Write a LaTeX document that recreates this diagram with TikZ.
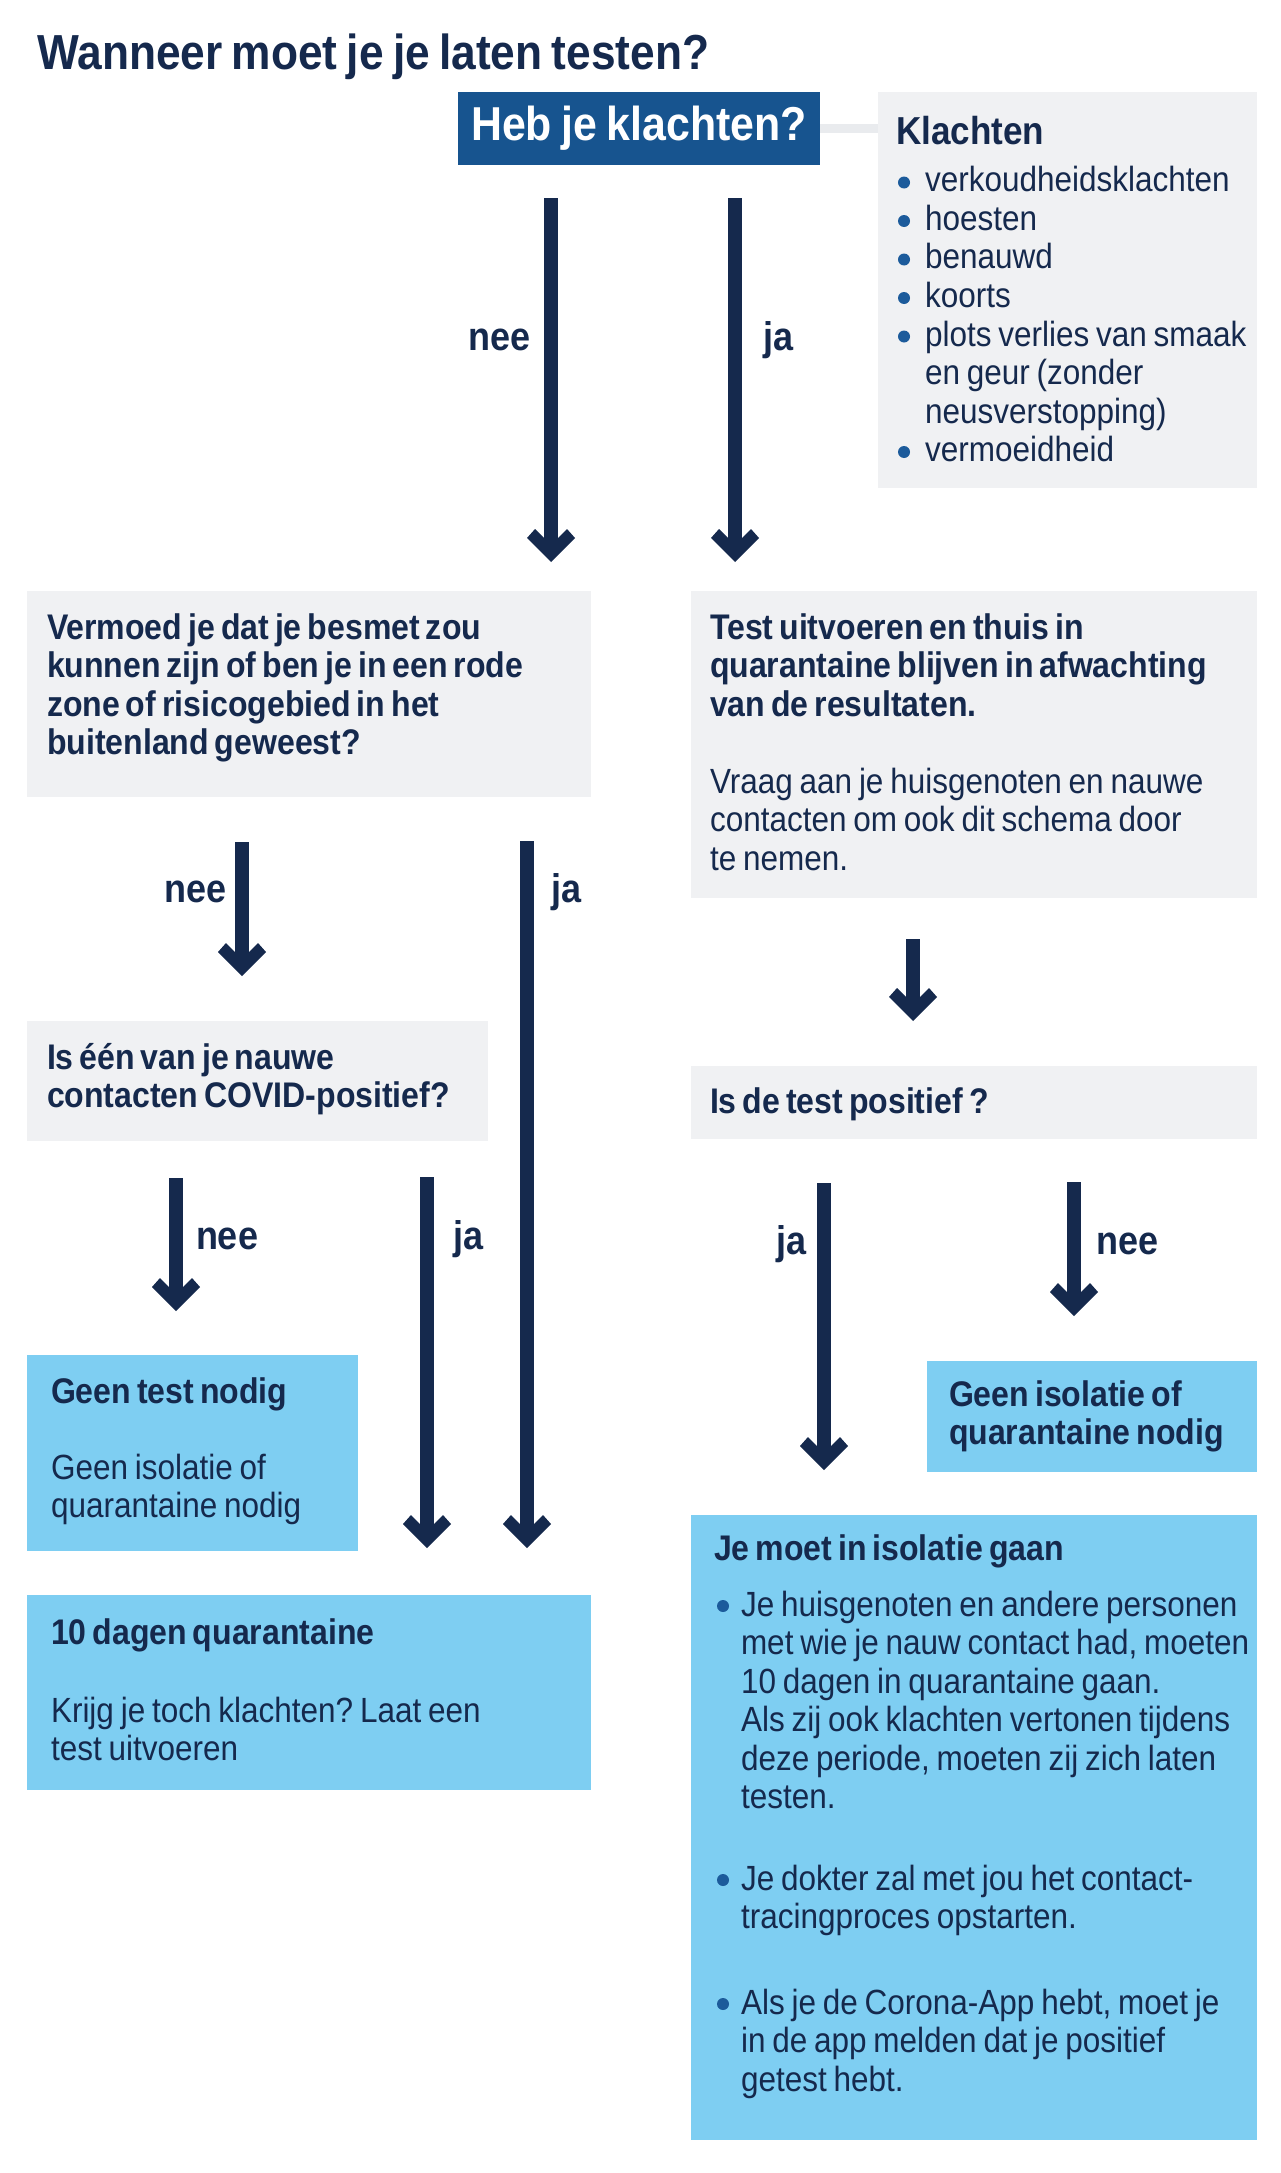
\documentclass[tikz,border=0pt]{standalone}
\usepackage{fontspec}
\setmainfont{Liberation Sans}[FakeStretch=0.9]
\usetikzlibrary{calc}
\frenchspacing
\definecolor{navy}{HTML}{15294D}
\definecolor{hebblue}{HTML}{17548F}
\definecolor{panelgray}{HTML}{F0F1F3}
\definecolor{lightblue}{HTML}{7ECEF2}
\definecolor{dotblue}{HTML}{1C5B9B}
\definecolor{linkgray}{HTML}{E9EBEE}
\newcommand\fTitle{\fontsize{24.6pt}{28pt}\selectfont\bfseries\fontdimen2\font=4.6pt\relax}
\newcommand\fBody{\fontsize{17.5pt}{19.25pt}\selectfont\spaceskip=3.4pt plus 1pt minus 0.5pt\relax}
\newcommand\fHead{\fontsize{17.8pt}{19.25pt}\selectfont\bfseries\spaceskip=3pt plus 1pt minus 0.5pt\relax}
\newcommand\fKl{\fontsize{19.5pt}{19.25pt}\selectfont\bfseries}
\newcommand\fLabel{\fontsize{20pt}{24pt}\selectfont\bfseries}
\newcommand\fHeb{\fontsize{23.8pt}{28pt}\selectfont\bfseries\fontdimen2\font=4.8pt\relax}
\newcommand\hangx[1][13.5pt]{\hspace*{#1}}
\newcommand\flowarrow[2]{%
  \draw[shaft] (#1) -- ($(#2)+(0,-22)$);
  \fill[navy] (#2) -- ++(-24,-24) -- ++(8,-9) -- ++(9,9) -- ++(14,0) -- ++(9,-9) -- ++(8,9) -- cycle;}
\begin{document}
\begin{tikzpicture}[x=0.5pt,y=-0.5pt,
  shaft/.style={draw=navy, line width=7pt},
  panel/.style={fill=panelgray, anchor=north west, inner sep=0pt, outer sep=0pt},
  note/.style={fill=lightblue, anchor=north west, inner sep=0pt, outer sep=0pt},
  txt/.style={anchor=base west, inner sep=0pt, outer sep=0pt, text=navy, font=\fBody},
  lbl/.style={inner sep=0pt, outer sep=0pt, text=navy, font=\fLabel},
  dot/.style={fill=dotblue},
  link/.style={draw=linkgray, line width=4.5pt}]
\fill[white] (0,0) rectangle (1280,2173);
\useasboundingbox (0,0) rectangle (1280,2173);

% title
\node[anchor=base west, inner sep=0pt, text=navy, font=\fTitle] (title) at (37,70) {Wanneer moet je je laten testen?};

% top question and symptoms panel
\node[fill=hebblue, minimum width=181pt, minimum height=36.5pt, inner sep=0pt, outer sep=0pt, text=white, font=\fHeb] (heb) at (639,128.5) {Heb je klachten?};
\node[panel, minimum width=189.5pt, minimum height=198pt] (klbox) at (878,92) {};
\draw[link] (heb.east) -- (heb.east -| klbox.west);
\node[txt, text width=190pt] (klT) at (896,145) {\fBody{\fKl Klachten}\\[4.25pt]
\hangx[14.5pt]verkoudheidsklachten\\
\hangx[14.5pt]hoesten\\
\hangx[14.5pt]benauwd\\
\hangx[14.5pt]koorts\\
\hangx[14.5pt]plots verlies van smaak\\
\hangx[14.5pt]en geur (zonder\\
\hangx[14.5pt]neusverstopping)\\
\hangx[14.5pt]vermoeidheid};
\foreach \by in {192,230.5,269,307.5,346,461.5}
  \fill[dot] (904,\by-9.5) circle (3pt);

% second row
\node[panel, minimum width=282pt, minimum height=103pt] (vermoed) at (27,591) {};
\node[txt, text width=290pt] (vermoedT) at (47,639) {\fHead Vermoed je dat je besmet zou\\
kunnen zijn of ben je in een rode\\
zone of risicogebied in het\\
buitenland geweest?};
\node[panel, minimum width=283pt, minimum height=153.5pt] (test) at (691,591) {};
\node[txt, text width=285pt] (testT) at (710,639) {\fBody{\fHead Test uitvoeren en thuis in\\
quarantaine blijven in afwachting\\
van de resultaten.}\\[19.25pt]
Vraag aan je huisgenoten en nauwe\\
contacten om ook dit schema door\\
te nemen.};

% third row
\node[panel, minimum width=230.5pt, minimum height=60pt] (iseen) at (27,1021) {};
\node[txt, text width=240pt] (iseenT) at (47,1069) {\fHead Is één van je nauwe\\
contacten COVID-positief?};
\node[panel, minimum width=283pt, minimum height=36.5pt] (positief) at (691,1066) {};
\node[txt, text width=270pt] (positiefT) at (710,1113) {\fHead Is de test positief ?};

% outcomes
\node[note, minimum width=165.5pt, minimum height=98pt] (geentest) at (27,1355) {};
\node[txt, text width=170pt] (geentestT) at (51,1403) {\fBody{\fHead Geen test nodig}\\[18.75pt]
Geen isolatie of\\
quarantaine nodig};
\node[note, minimum width=165pt, minimum height=55.5pt] (geeniso) at (927,1361) {};
\node[txt, text width=165pt] (geenisoT) at (949,1406) {\fHead Geen isolatie of\\
quarantaine nodig};
\node[note, minimum width=282pt, minimum height=97.5pt] (tien) at (27,1595) {};
\node[txt, text width=290pt] (tienT) at (51,1644) {\fBody{\fHead 10 dagen quarantaine}\\[19.75pt]
Krijg je toch klachten? Laat een\\
test uitvoeren};
\node[note, minimum width=283pt, minimum height=312.5pt] (isolatie) at (691,1515) {};
\node[txt, text width=290pt] (isolatieT) at (714,1560) {\fBody{\fHead Je moet in isolatie gaan}\\[8.75pt]
\hangx Je huisgenoten en andere personen\\
\hangx met wie je nauw contact had, moeten\\
\hangx 10 dagen in quarantaine gaan.\\
\hangx Als zij ook klachten vertonen tijdens\\
\hangx deze periode, moeten zij zich laten\\
\hangx testen.\\[21.5pt]
\hangx Je dokter zal met jou het contact-\\
\hangx tracingproces opstarten.\\[23.5pt]
\hangx Als je de Corona-App hebt, moet je\\
\hangx in de app melden dat je positief\\
\hangx getest hebt.};
\foreach \by in {1616,1890,2014}
  \fill[dot] (723,\by-10) circle (3pt);

% arrow end points
\coordinate (a1s) at (551,198);  \coordinate (a1t) at (551,562);
\coordinate (a2s) at (735,198);  \coordinate (a2t) at (735,562);
\coordinate (a3s) at (242,842);  \coordinate (a3t) at (242,976);
\coordinate (a4s) at (527,841);  \coordinate (a4t) at (527,1548);
\coordinate (a5s) at (913,939);  \coordinate (a5t) at (913,1021);
\coordinate (a6s) at (176,1178); \coordinate (a6t) at (176,1311);
\coordinate (a7s) at (427,1177); \coordinate (a7t) at (427,1548);
\coordinate (a8s) at (824,1183); \coordinate (a8t) at (824,1470);
\coordinate (a9s) at (1074,1182); \coordinate (a9t) at (1074,1316);
\flowarrow{a1s}{a1t}
\flowarrow{a2s}{a2t}
\flowarrow{a3s}{a3t}
\flowarrow{a4s}{a4t}
\flowarrow{a5s}{a5t}
\flowarrow{a6s}{a6t}
\flowarrow{a7s}{a7t}
\flowarrow{a8s}{a8t}
\flowarrow{a9s}{a9t}

% labels
\node[lbl, anchor=base east] (l1) at (531,350) {nee};
\node[lbl, anchor=base west] (l2) at (763,350) {ja};
\node[lbl, anchor=base east] (l3) at (227,902) {nee};
\node[lbl, anchor=base west] (l4) at (551,902) {ja};
\node[lbl, anchor=base west] (l5) at (196,1249) {nee};
\node[lbl, anchor=base west] (l6) at (453,1249) {ja};
\node[lbl, anchor=base east] (l7) at (807,1254) {ja};
\node[lbl, anchor=base west] (l8) at (1096,1254) {nee};
\end{tikzpicture}
\end{document}
